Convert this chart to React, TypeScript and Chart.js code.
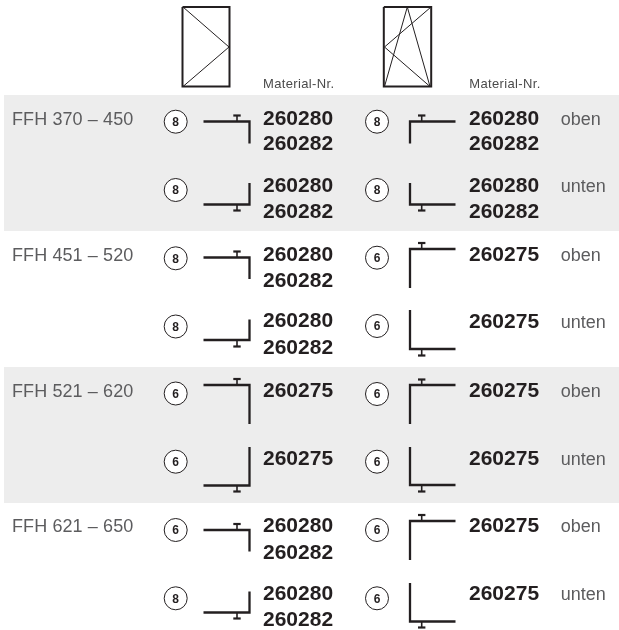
import React, { useEffect, useRef } from "react";
import { Chart, registerables } from "chart.js";

Chart.register(...registerables);

// ---------- content ----------
const ranges = ["FFH 370 – 450", "FFH 451 – 520", "FFH 521 – 620", "FFH 621 – 650"];
const headerLabel = "Material-Nr.";
const sideLabels = ["oben", "unten"];
// per row (4 ranges x oben/unten)
const leftRings = ["8", "8", "8", "8", "6", "6", "6", "8"];
const rightRings = ["8", "8", "6", "6", "6", "6", "6", "6"];
const leftMaterials = [
  ["260280", "260282"], ["260280", "260282"],
  ["260280", "260282"], ["260280", "260282"],
  ["260275"], ["260275"],
  ["260280", "260282"], ["260280", "260282"],
];
const rightMaterials = [
  ["260280", "260282"], ["260280", "260282"],
  ["260275"], ["260275"],
  ["260275"], ["260275"],
  ["260275"], ["260275"],
];

// ---------- readings from the picture (axis units) ----------
const bandSpans = [[95, 231], [367, 503]];
const rangeBaselines = [124.5, 260.5, 397, 532];
const rowBaselines = [124.5, 192, 260.5, 327.5, 397, 464.5, 532, 600];
const leftBaselines = [124.5, 192, 260.5, 327, 397, 464.5, 532, 600];
const secondLineLeft = [150, 218, 287, 353.5, 0, 0, 559, 626];
const secondLineRight = [150, 218, 0, 0, 0, 0, 0, 0];
const ringLeftY = [121.7, 190, 258.3, 326.5, 393.5, 461.7, 530, 598.3];
const ringRightY = [121.7, 190, 257.7, 326, 394, 461.7, 530, 598.3];
// profile: [arm y, free end y, cap y]
const leftProfiles = [
  [121.5, 143.5, 115.5], [204.5, 183, 210.5],
  [257.5, 279, 251.5], [340, 319.5, 346.5],
  [385, 424, 379], [485.5, 447, 491.5],
  [530, 551.5, 524], [612.5, 591.5, 618.5],
];
const rightProfiles = [
  [121.5, 143.5, 115.5], [204.5, 183, 210.5],
  [249, 288, 243], [349, 310, 355.5],
  [385, 424, 379.5], [485, 447, 491.5],
  [521, 560, 515], [621.5, 583, 627.5],
];
const leftFrame = [[182.5, 7], [229.5, 7], [229.5, 86.5], [182.5, 86.5], [182.5, 7]];
const leftSash = [[183, 7], [229, 47], [183, 86.5]];
const rightFrame = [[383.8, 7], [431.2, 7], [431.2, 86.5], [383.8, 86.5], [383.8, 7]];
const rightSash = [[431, 7], [384.5, 47], [430, 86.5]];
const rightTilt = [[384.5, 86.5], [407.3, 7], [430, 86.5]];

const INK = "#231f20";

const toPts = (a: number[][]) => a.map(([x, y]) => ({ x, y }));

function lineDs(points: number[][], width: number) {
  return {
    data: toPts(points),
    showLine: true,
    fill: false,
    borderColor: INK,
    borderWidth: width,
    pointRadius: 0,
    borderJoinStyle: "miter" as const,
    borderCapStyle: "butt" as const,
    tension: 0,
    order: 5,
  };
}

function profileDs(p: number[][], cornerX: number, freeX: number, teeX: number) {
  const out: any[] = [];
  p.forEach(([arm, end, cap]) => {
    out.push(lineDs([[freeX, arm], [cornerX, arm], [cornerX, end]], 2.3));
    out.push(lineDs([[teeX, arm], [teeX, cap]], 1.6));
    out.push(lineDs([[teeX - 3.7, cap], [teeX + 3.7, cap]], 2.2));
  });
  return out;
}

function ringDs(ys: number[], x: number) {
  return {
    data: ys.map((y) => ({ x, y })),
    showLine: false,
    pointRadius: 11.5,
    pointBackgroundColor: "#ffffff",
    pointBorderColor: INK,
    pointBorderWidth: 1,
    order: 2,
  };
}

const textPlugin = {
  id: "tableText",
  afterDatasetsDraw(chart: any) {
    const { ctx, scales } = chart;
    const X = (v: number) => scales.x.getPixelForValue(v);
    const Y = (v: number) => scales.y.getPixelForValue(v);
    const put = (s: string, x: number, y: number, font: string, color: string, spacing = "0px", align: CanvasTextAlign = "left") => {
      ctx.font = font;
      ctx.fillStyle = color;
      ctx.textAlign = align;
      ctx.textBaseline = "alphabetic";
      ctx.letterSpacing = spacing;
      ctx.fillText(s, X(x), Y(y));
    };
    ctx.save();
    const SANS = '"Liberation Sans", Arial, sans-serif';
    const light = `18px ${SANS}`;
    const bold = `bold 21px ${SANS}`;
    const small = `bold 12px ${SANS}`;
    const header = `13px ${SANS}`;
    const GREY = "#5c5c5e";

    put(headerLabel, 263, 87.5, header, "#4a4a4a", "0.35px");
    put(headerLabel, 469.3, 87.5, header, "#4a4a4a", "0.35px");

    ranges.forEach((r, i) => put(r, 12, rangeBaselines[i], light, GREY, "0.1px"));

    rowBaselines.forEach((by, i) => {
      put(sideLabels[i % 2], 560.7, by, light, GREY);
      const lm = leftMaterials[i];
      put(lm[0], 263, leftBaselines[i], bold, INK);
      if (lm[1]) put(lm[1], 263, secondLineLeft[i], bold, INK);
      const rm = rightMaterials[i];
      put(rm[0], 469, by, bold, INK);
      if (rm[1]) put(rm[1], 469, secondLineRight[i], bold, INK);
      put(leftRings[i], 175.7, ringLeftY[i] + 4.3, small, INK, "0px", "center");
      put(rightRings[i], 377, ringRightY[i] + 4.3, small, INK, "0px", "center");
    });
    ctx.restore();
  },
};

export default function App() {
  const ref = useRef<HTMLCanvasElement | null>(null);
  useEffect(() => {
    document.body.style.margin = "0";
    const bands = bandSpans.map(([a, b]) => ({
      data: [{ x: 4, y: b }, { x: 619, y: b }],
      showLine: true,
      fill: { value: a },
      backgroundColor: "#ededed",
      borderWidth: 0,
      pointRadius: 0,
      order: 10,
    }));
    const chart = new Chart(ref.current as HTMLCanvasElement, {
      type: "scatter",
      data: {
        datasets: [
          ...bands,
          lineDs(leftFrame, 2),
          lineDs(leftSash, 1),
          lineDs(rightFrame, 2),
          lineDs(rightSash, 1),
          lineDs(rightTilt, 1),
          ...profileDs(leftProfiles, 249.5, 203.5, 237),
          ...profileDs(rightProfiles, 410, 455.5, 421.7),
          ringDs(ringLeftY, 175.7),
          ringDs(ringRightY, 377),
        ] as any,
      },
      options: {
        animation: false,
        responsive: false,
        layout: { padding: 0, autoPadding: false },
        plugins: { legend: { display: false }, tooltip: { enabled: false } },
        events: [],
        scales: {
          x: { type: "linear", display: false, min: 0, max: 619 },
          y: { type: "linear", display: false, min: 0, max: 630, reverse: true },
        },
      },
      plugins: [textPlugin],
    });
    return () => chart.destroy();
  }, []);
  return (
    <div style={{ position: "fixed", left: 0, top: 0, width: 619, height: 630, background: "#fff" }}>
      <canvas ref={ref} width={619} height={630} style={{ display: "block" }} />
    </div>
  );
}
